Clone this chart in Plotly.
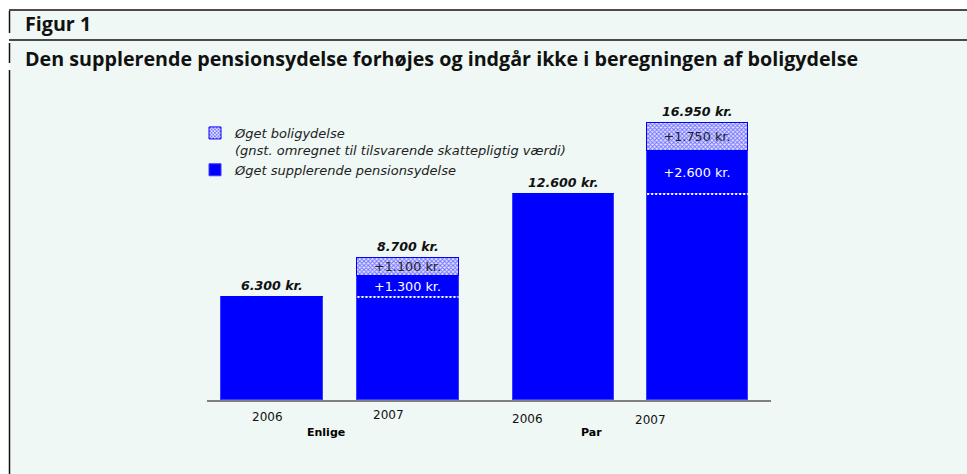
import plotly.graph_objects as go

# ---- data ----
groups = ["Enlige", "Enlige", "Par", "Par"]
years = ["2006", "2007", "2006", "2007"]
grundniveau = [6300, 6300, 12600, 12600]          # level of previous year
oeget_pension = [0, 1300, 0, 2600]                 # increased supplementary pension
oeget_bolig = [0, 1100, 0, 1750]                   # increased housing benefit
group_labels = ["Enlige", "Par"]

totals = [a + b + c for a, b, c in zip(grundniveau, oeget_pension, oeget_bolig)]

def kr(v):
    return f"{v:,.0f}".replace(",", ".") + " kr."

# layout helpers (window coordinates)
xpos = [0, 1, 2.14, 3.13]
bw = 0.743
W, H = 967, 474
X0, Y0, X1 = 207, 400, 771       # plot area in window pixels
ph = 300
ml = X0
mr = W - X1
mb = H - Y0
mt = H - mb - ph
pw = X1 - X0
def px(x):
    return (x - X0) / pw
def py(y):
    return (Y0 - y) / ph

BLUE = "#0000ff"
EDGE = "#3c3cff"
BG = "#eff8f5"
FONT = "DejaVu Sans"

fig = go.Figure()
fig.add_bar(x=xpos, y=grundniveau, width=bw, marker=dict(color=BLUE, line=dict(color=EDGE, width=1)),
            showlegend=False, hoverinfo="skip")
fig.add_bar(x=xpos, y=oeget_pension, width=bw,
            marker=dict(color=BLUE, line=dict(color=EDGE, width=1)),
            name="<i>Øget supplerende pensionsydelse</i>",
            text=["+" + kr(v) if v else "" for v in oeget_pension],
            textposition="inside", insidetextanchor="middle", constraintext="none",
            textfont=dict(color="white", size=12.8, family=FONT))
fig.add_bar(x=xpos, y=oeget_bolig, width=bw,
            marker=dict(color="#d8d8ff", line=dict(color=BLUE, width=1),
                        pattern=dict(shape="x", fgcolor=BLUE, bgcolor="#e4e4ff", size=3, solidity=0.55)),
            name="<i>Øget boligydelse<br>(gnst. omregnet til tilsvarende skattepligtig værdi)</i>",
            text=["+" + kr(v) if v else "" for v in oeget_bolig],
            textposition="inside", insidetextanchor="middle", constraintext="none",
            textfont=dict(color="#222222", size=12.8, family=FONT))

annotations = []
for x, t in zip(xpos, totals):
    annotations.append(dict(x=x, y=t, xref="x", yref="y", text=f"<b><i>{kr(t)}</i></b>",
                            showarrow=False, yanchor="bottom", yshift=2,
                            font=dict(family=FONT, size=12.6, color="#111111")))
# year labels
year_x = [-0.03, 0.853, 1.875, 2.78]
year_y = [417, 415, 419, 420]
for x, yy, lab in zip(year_x, year_y, years):
    annotations.append(dict(x=x, y=py(yy), xref="x", yref="paper", text=lab, showarrow=False,
                            yanchor="middle", xanchor="center",
                            font=dict(family=FONT, size=12, color="#111111")))
for x, lab in zip([0.40, 2.35], group_labels):
    annotations.append(dict(x=x, y=py(432), xref="x", yref="paper", text=f"<b>{lab}</b>",
                            showarrow=False, yanchor="middle", xanchor="center",
                            font=dict(family=FONT, size=11, color="#000000")))
# titles
annotations.append(dict(x=px(23), y=py(24), xref="paper", yref="paper", xanchor="left",
                        yanchor="middle", text="Figur 1", showarrow=False,
                        font=dict(family="Open Sans", size=19.7, weight=700, color="#111111")))
annotations.append(dict(x=px(23), y=py(58), xref="paper", yref="paper", xanchor="left",
                        yanchor="middle",
                        text="Den supplerende pensionsydelse forhøjes og indgår ikke i beregningen af boligydelse",
                        showarrow=False,
                        font=dict(family="Open Sans", size=19.7, weight=700, color="#111111")))

shapes = [
    dict(type="rect", xref="paper", yref="paper", x0=px(-2), x1=px(975), y0=py(10), y1=py(-2),
         fillcolor="white", line=dict(width=0), layer="below"),
    dict(type="rect", xref="paper", yref="paper", x0=px(-2), x1=px(9.5), y0=py(480), y1=py(-2),
         fillcolor="white", line=dict(width=0), layer="below"),
    dict(type="line", xref="paper", yref="paper", x0=px(9), x1=px(967), y0=py(10), y1=py(10),
         line=dict(color="#111111", width=1.5)),
    dict(type="line", xref="paper", yref="paper", x0=px(9), x1=px(967), y0=py(40), y1=py(40),
         line=dict(color="#111111", width=1.5)),
]
for a, b in [(11, 33), (43, 63), (70, 480)]:
    shapes.append(dict(type="line", xref="paper", yref="paper", x0=px(9.5), x1=px(9.5),
                       y0=py(a), y1=py(b), line=dict(color="#111111", width=1.5)))
# dotted previous-level lines in 2007 bars
for x, base, inc in zip(xpos, grundniveau, oeget_pension):
    if inc:
        shapes.append(dict(type="line", xref="x", yref="y", x0=x - bw / 2, x1=x + bw / 2,
                           y0=base, y1=base, line=dict(color="white", width=2, dash="2px,2px")))

fig.update_layout(
    width=W, height=H, barmode="stack", bargap=0,
    margin=dict(l=ml, r=mr, t=mt, b=mb, pad=0),
    paper_bgcolor=BG, plot_bgcolor=BG,
    xaxis=dict(range=[-0.478, 3.669], showgrid=False, zeroline=False, showticklabels=False,
               showline=True, linecolor="#808080", linewidth=2, ticks=""),
    yaxis=dict(range=[0, ph / 0.01635], showgrid=False, zeroline=False, showticklabels=False,
               showline=False),
    legend=dict(x=px(195), y=py(118), xanchor="left", yanchor="top", traceorder="reversed",
                valign="top", bgcolor="rgba(0,0,0,0)", tracegroupgap=0,
                font=dict(family=FONT, size=13, color="#222222")),
    annotations=annotations, shapes=shapes,
)
fig.write_html("out.html", config={"displayModeBar": False},
               post_script="document.body.style.margin='0px';document.body.style.overflow='hidden';")
